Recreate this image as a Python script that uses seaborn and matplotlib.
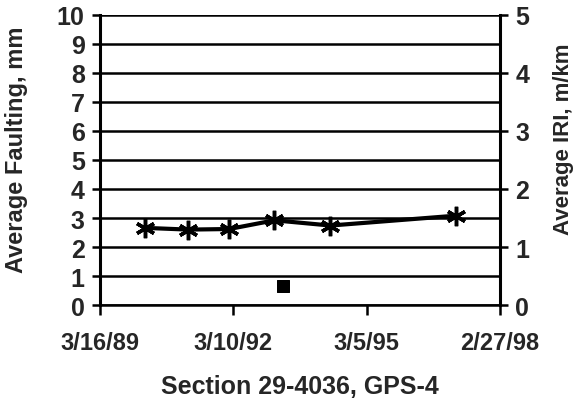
import pandas as pd
import seaborn as sns
import matplotlib
matplotlib.use("Agg")
from matplotlib import pyplot as plt

# values
iri_dates = ["1990-03-20", "1991-03-06", "1992-02-05", "1993-02-09", "1994-05-13", "1997-03-03"]
iri_values = [1.33, 1.30, 1.31, 1.46, 1.37, 1.54]
fault_dates = ["1993-04-16"]
fault_values = [0.65]
tick_dates = ["1989-03-16", "1992-03-10", "1995-03-05", "1998-02-27"]
tick_labels = ["3/16/89", "3/10/92", "3/5/95", "2/27/98"]

iri = pd.DataFrame({"date": pd.to_datetime(iri_dates), "iri": iri_values})
fault = pd.DataFrame({"date": pd.to_datetime(fault_dates), "fault": fault_values})

sns.set_style("white")
plt.rcParams['font.family'] = ['Liberation Sans', 'DejaVu Sans']

fig = plt.figure(figsize=(5.73, 4.06), dpi=100)
ax = fig.add_axes([0.1745, 0.2463, 0.6981, 0.7143])
ax2 = ax.twinx()

for yv in range(0, 11):
	ax.axhline(yv, color="black", lw=1.8, zorder=1)

sns.scatterplot(data=fault, x="date", y="fault", ax=ax, marker="s", s=80,
	color="black", edgecolor="black", zorder=3, legend=False)
sns.lineplot(data=iri, x="date", y="iri", ax=ax2, color="black", lw=3,
	marker=(6, 2, 0), markersize=14, markeredgewidth=2.5, markeredgecolor="black", zorder=4)

ax.set_ylim(0, 10)
ax2.set_ylim(0, 5)
ax.set_yticks(range(0, 11))
ax2.set_yticks(range(0, 6))
ax.set_xlim(pd.Timestamp(tick_dates[0]), pd.Timestamp(tick_dates[-1]))
ax.set_xticks(pd.to_datetime(tick_dates))
ax.set_xticklabels(tick_labels)

for a in (ax, ax2):
	for s in a.spines.values():
		s.set_visible(False)
ax.spines["left"].set_visible(True)
ax.spines["left"].set_linewidth(2.2)
ax.spines["left"].set_color("black")
ax2.spines["right"].set_visible(True)
ax2.spines["right"].set_linewidth(2.2)
ax2.spines["right"].set_color("black")
ax.spines["bottom"].set_visible(True)
ax.spines["bottom"].set_linewidth(1.8)
ax.spines["bottom"].set_color("black")

ax.tick_params(axis="y", direction="out", length=6, width=1.8, color="black",
	left=True, labelsize=18, pad=5)
ax.tick_params(axis="x", direction="out", length=7, width=1.8, color="black",
	bottom=True, labelsize=17, pad=12)
ax2.tick_params(axis="y", direction="out", length=6, width=1.8, color="black",
	right=True, labelsize=18, pad=5)
for lab in ax.get_xticklabels() + ax.get_yticklabels() + ax2.get_yticklabels():
	lab.set_fontweight("bold")

ax.set_xlabel("Section 29-4036, GPS-4", fontsize=18, fontweight="bold", labelpad=14)
ax.set_ylabel("Average Faulting, mm", fontsize=17, fontweight="bold")
ax.yaxis.set_label_coords(-0.18, 0.54)
ax2.set_ylabel("Average IRI, m/km", fontsize=16, fontweight="bold")
ax2.yaxis.set_label_coords(1.133, 0.575)

plt.savefig("out.png", dpi=100)
